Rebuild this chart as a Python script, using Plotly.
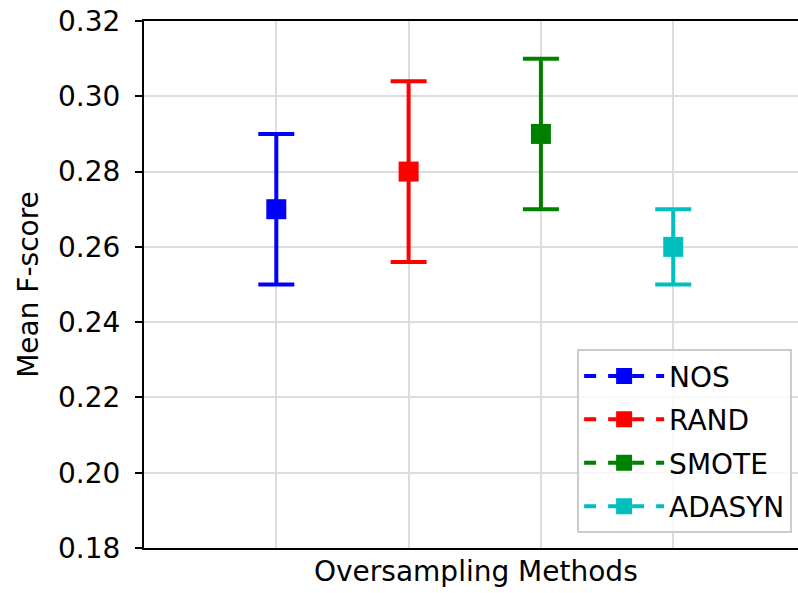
import plotly.graph_objects as go

methods = ["NOS", "RAND", "SMOTE", "ADASYN"]
positions = [0, 1, 2, 3]
means = [0.27, 0.28, 0.29, 0.26]
errors = [0.02, 0.024, 0.02, 0.01]
colors = ["#0000ff", "#ff0000", "#008000", "#00bfbf"]
y_ticks = [0.18, 0.20, 0.22, 0.24, 0.26, 0.28, 0.30, 0.32]

fig = go.Figure()
for i, name in enumerate(methods):
    fig.add_trace(go.Scatter(
        x=[positions[i]], y=[means[i]], name=name, legendgroup=name,
        mode="lines+markers",
        line=dict(color=colors[i], width=4, dash="dash"),
        marker=dict(symbol="square", size=20, color=colors[i]),
        error_y=dict(type="data", array=[errors[i]], color=colors[i],
                     thickness=4, width=18, visible=True),
    ))

fig.update_layout(
    width=798, height=593,
    margin=dict(l=144, r=0, t=21, b=45),
    plot_bgcolor="white", paper_bgcolor="white",
    font=dict(family="DejaVu Sans", size=28, color="black"),
    showlegend=True,
    legend=dict(
        x=0.991, y=0.028, xanchor="right", yanchor="bottom",
        bordercolor="#cccccc", borderwidth=2, bgcolor="rgba(255,255,255,0.8)",
        font=dict(size=28), traceorder="grouped", tracegroupgap=4,
        itemwidth=80,
    ),
    xaxis=dict(
        range=[-1, 3.943], tickvals=positions, showticklabels=False,
        ticks="", showgrid=True, gridcolor="#dcdcdc", gridwidth=2,
        showline=True, linecolor="black", linewidth=2, mirror=True,
        zeroline=False,
    ),
    yaxis=dict(
        range=[0.18, 0.32], tickvals=y_ticks, tickformat=".2f",
        ticks="outside", ticklen=7, tickwidth=2, tickcolor="black",
        ticklabelstandoff=9,
        showgrid=True, gridcolor="#dcdcdc", gridwidth=2,
        showline=True, linecolor="black", linewidth=2,
        zeroline=False,
        title=dict(text="Mean F-score", font=dict(size=28), standoff=11),
        tickfont=dict(size=28),
    ),
    annotations=[dict(
        text="Oversampling Methods", xref="paper", yref="paper",
        x=0.507, y=-0.045, xanchor="center", yanchor="middle",
        showarrow=False, font=dict(size=28),
    )],
)

fig.write_html("out.html")
